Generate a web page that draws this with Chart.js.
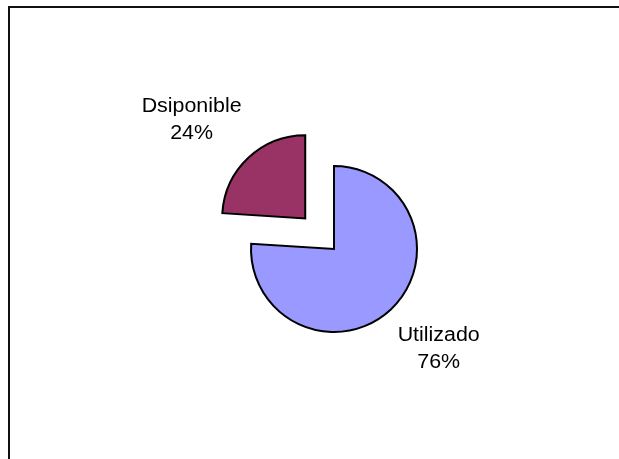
<!DOCTYPE html>
<html>
<head>
<meta charset="utf-8">
<script src="https://cdn.jsdelivr.net/npm/chart.js@4/dist/chart.umd.min.js"></script>
<style>
  html, body { margin: 0; padding: 0; background: #fff; }
  #wrap { width: 619px; height: 459px; position: relative; }
</style>
</head>
<body>
<div id="wrap">
  <canvas id="pie"></canvas>
</div>
<script>
// data
var categories = ['Utilizado', 'Dsiponible'];
var shares = [76, 24];
var pctLabels = ['76%', '24%'];
var colours = ['#9999FF', '#993366'];
var explode = [0, 168]; // chart.js moves the slice by offset/4

// frame line at the top and left of the picture
var framePlugin = {
  id: 'frame',
  beforeDraw: function(chart) {
    var c = chart.ctx;
    c.save();
    c.fillStyle = '#111';
    c.fillRect(8, 6, 611, 2);
    c.fillRect(8, 6, 2, 453);
    c.restore();
  }
};

// "name / percent" labels just outside each slice, like Excel's outside end
var labelPlugin = {
  id: 'outsideLabels',
  afterDatasetsDraw: function(chart) {
    var c = chart.ctx;
    var arcs = chart.getDatasetMeta(0).data;
    var sx = 1.07;
    c.save();
    c.font = '20px "Liberation Sans", Arial, sans-serif';
    c.fillStyle = '#000';
    c.textAlign = 'center';
    c.textBaseline = 'alphabetic';
    arcs.forEach(function(arc, i) {
      var p = arc.getProps(['x', 'y', 'startAngle', 'endAngle', 'outerRadius']);
      var mid = (p.startAngle + p.endAngle) / 2;
      var shift = explode[i] / 4;
      var cx = p.x + Math.cos(mid) * shift;
      var cy = p.y + Math.sin(mid) * shift;
      var lines = [categories[i], pctLabels[i]];
      var w = 0;
      lines.forEach(function(t) { w = Math.max(w, c.measureText(t).width * sx); });
      var h = 48;
      var kx = cx + Math.cos(mid) * (p.outerRadius + 10);
      var ky = cy + Math.sin(mid) * (p.outerRadius + 20);
      var left = Math.cos(mid) >= 0 ? kx : kx - w;
      var top = Math.sin(mid) >= 0 ? ky : ky - h;
      lines.forEach(function(t, j) {
        c.save();
        c.translate(left + w / 2, top + 17 + j * 27);
        c.scale(sx, 1);
        c.fillText(t, 0, 0);
        c.restore();
      });
    });
    c.restore();
  }
};

new Chart(document.getElementById('pie'), {
  type: 'pie',
  data: {
    labels: categories,
    datasets: [{
      data: shares,
      backgroundColor: colours,
      borderColor: '#000',
      borderWidth: 2,
      borderJoinStyle: 'miter',
      offset: explode
    }]
  },
  options: {
    responsive: true,
    maintainAspectRatio: false,
    animation: false,
    radius: 83,
    layout: { padding: { left: 49, right: 0, top: 39, bottom: 0 } },
    plugins: {
      legend: { display: false },
      tooltip: { enabled: false }
    }
  },
  plugins: [framePlugin, labelPlugin]
});
</script>
</body>
</html>
